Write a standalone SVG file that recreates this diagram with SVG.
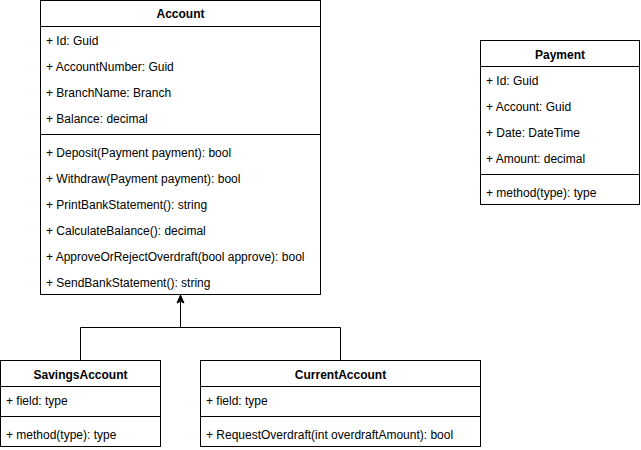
<svg xmlns="http://www.w3.org/2000/svg" width="641" height="450" viewBox="0 0 641 450">
<style>
rect.box{fill:#fff;stroke:#000;stroke-width:1}
line.sep{stroke:#000;stroke-width:1}
text{font-family:"Liberation Sans",Arial,Helvetica,sans-serif;font-size:12px;fill:#000}
text.title{font-weight:bold;text-anchor:middle}
.conn{fill:none;stroke:#000;stroke-width:1}
</style>
<rect width="641" height="450" fill="#fff"/>
<g id="connectors">
<polyline class="conn" points="80.5,360.5 80.5,327.5 340.5,327.5 340.5,360.5"/>
<line class="conn" x1="180.5" y1="327.5" x2="180.5" y2="301"/>
<polygon points="180.5,295 184,303 180.5,301.3 177,303" fill="#000" stroke="#000" stroke-width="1"/>
</g>
<g id="Account">
<rect class="box" x="40.5" y="0.5" width="280" height="294"/>
<line class="sep" x1="40.5" y1="26.5" x2="320.5" y2="26.5"/>
<line class="sep" x1="40.5" y1="134.5" x2="320.5" y2="134.5"/>
<text class="title" x="180.5" y="18">Account</text>
<text x="46" y="45">+ Id: Guid</text>
<text x="46" y="71">+ AccountNumber: Guid</text>
<text x="46" y="97">+ BranchName: Branch</text>
<text x="46" y="123">+ Balance: decimal</text>
<text x="46" y="157">+ Deposit(Payment payment): bool</text>
<text x="46" y="183">+ Withdraw(Payment payment): bool</text>
<text x="46" y="209">+ PrintBankStatement(): string</text>
<text x="46" y="235">+ CalculateBalance(): decimal</text>
<text x="46" y="261">+ ApproveOrRejectOverdraft(bool approve): bool</text>
<text x="46" y="287">+ SendBankStatement(): string</text>
</g>
<g id="Payment">
<rect class="box" x="480.5" y="40.5" width="159" height="164"/>
<line class="sep" x1="480.5" y1="66.5" x2="639.5" y2="66.5"/>
<line class="sep" x1="480.5" y1="174.5" x2="639.5" y2="174.5"/>
<text class="title" x="560" y="59">Payment</text>
<text x="486" y="85">+ Id: Guid</text>
<text x="486" y="111">+ Account: Guid</text>
<text x="486" y="137">+ Date: DateTime</text>
<text x="486" y="163">+ Amount: decimal</text>
<text x="486" y="197">+ method(type): type</text>
</g>
<g id="SavingsAccount">
<rect class="box" x="0.5" y="360.5" width="160" height="86"/>
<line class="sep" x1="0.5" y1="386.5" x2="160.5" y2="386.5"/>
<line class="sep" x1="0.5" y1="416.5" x2="160.5" y2="416.5"/>
<text class="title" x="80.5" y="379">SavingsAccount</text>
<text x="6" y="405">+ field: type</text>
<text x="6" y="439">+ method(type): type</text>
</g>
<g id="CurrentAccount">
<rect class="box" x="200.5" y="360.5" width="280" height="86"/>
<line class="sep" x1="200.5" y1="386.5" x2="480.5" y2="386.5"/>
<line class="sep" x1="200.5" y1="416.5" x2="480.5" y2="416.5"/>
<text class="title" x="340.5" y="379">CurrentAccount</text>
<text x="206" y="405">+ field: type</text>
<text x="206" y="439">+ RequestOverdraft(int overdraftAmount): bool</text>
</g>
</svg>
